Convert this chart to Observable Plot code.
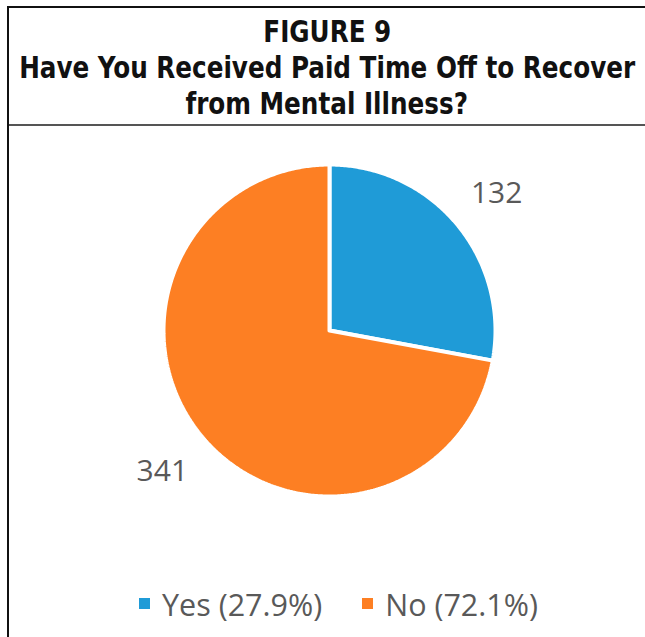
<!DOCTYPE html>
<html>
<head>
<meta charset="utf-8">
<script src="https://cdn.jsdelivr.net/npm/d3@7"></script>
<script src="https://cdn.jsdelivr.net/npm/@observablehq/plot@0.6"></script>
<style>
  html, body { margin: 0; padding: 0; background: #fff; }
  #wrap { position: relative; width: 645px; height: 637px; overflow: hidden; background: #fff; }
  #frame { position: absolute; left: 7px; top: 6px; right: -10px; bottom: -10px; border-left: 2px solid #111; border-top: 2px solid #111; }
  #divider { position: absolute; left: 9px; right: 0; top: 124px; height: 2px; background: #555; }
  #title { position: absolute; left: 9px; right: 0; top: 13px;
           font-family: "DejaVu Sans Condensed", "Liberation Sans Narrow", sans-serif;
           font-weight: bold; font-size: 31px; line-height: 36px; color: #111; }
  #title .ln { display: flex; justify-content: center; white-space: nowrap; }
  #title .ln span { display: inline-block; flex: none; transform-origin: center; }
  #chart { position: absolute; left: 0; top: 130px; }
  #legend { position: absolute; left: 32px; right: 0; top: 576px; text-align: center; font-family: "Open Sans", sans-serif;
            font-size: 30.5px; color: #595959; white-space: nowrap; }
  .item { display: inline-flex; align-items: center; margin: 0 20px; }
  .sw { display: inline-block; width: 11px; height: 11px; margin-right: 12px; }
</style>
</head>
<body>
<div id="wrap">
  <div id="frame"></div>
  <div id="title"></div>
  <div id="divider"></div>
  <div id="chart"></div>
  <div id="legend"></div>
</div>
<script>
const titleLines = ["FIGURE 9", "Have You Received Paid Time Off to Recover", "from Mental Illness?"];
const categories = ["Yes", "No"];
const counts = [132, 341];
const percentLabels = ["27.9%", "72.1%"];
const colors = ["#1f9bd7", "#fd7f23"];

// title (condensed to the reference width)
const titleEl = document.getElementById("title");
const spans = titleLines.map(t => {
  const ln = document.createElement("div");
  ln.className = "ln";
  const s = document.createElement("span");
  s.textContent = t;
  ln.appendChild(s);
  titleEl.appendChild(ln);
  return s;
});
const sx = 616 / spans[1].getBoundingClientRect().width;
spans.forEach(s => { s.style.transform = `scaleX(${sx})`; });

const W = 645, H = 440;
const cx = 329, cy = 200, R = 166;   // layout constants (pixels)

const pie = d3.pie().sort(null).value(d => d.count).startAngle(0).endAngle(2 * Math.PI);
const data = categories.map((c, i) => ({category: c, count: counts[i]}));
const arcs = pie(data);

const verts = [];
arcs.forEach(a => {
  const cat = a.data.category;
  verts.push({category: cat, x: 0, y: 0});
  const n = Math.max(8, Math.ceil((a.endAngle - a.startAngle) / 0.01));
  for (let k = 0; k <= n; k++) {
    const t = a.startAngle + (a.endAngle - a.startAngle) * k / n;
    verts.push({category: cat, x: Math.sin(t), y: Math.cos(t)});
  }
  verts.push({category: cat, x: 0, y: 0});
});

const labelR = 1.31;
const labels = arcs.map(a => {
  const m = (a.startAngle + a.endAngle) / 2;
  return {category: a.data.category, text: String(a.data.count), x: labelR * Math.sin(m), y: labelR * Math.cos(m)};
});

const chart = Plot.plot({
  width: W, height: H,
  margin: 0,
  x: {domain: [-cx / R, (W - cx) / R], range: [0, W], axis: null},
  y: {domain: [-(H - cy) / R, cy / R], range: [H, 0], axis: null},
  color: {domain: categories, range: colors},
  marks: [
    Plot.line(verts, {x: "x", y: "y", z: "category", fill: "category", stroke: "white", strokeWidth: 4, strokeLinejoin: "miter", curve: "linear"}),
    Plot.text(labels, {x: "x", y: "y", text: "text", fill: "#595959", fontSize: 30, fontFamily: "Open Sans, sans-serif", textAnchor: "middle", dy: 2})
  ]
});
document.getElementById("chart").appendChild(chart);

const legend = document.getElementById("legend");
categories.forEach((c, i) => {
  const it = document.createElement("span");
  it.className = "item";
  it.innerHTML = `<span class="sw" style="background:${colors[i]}"></span>${c} (${percentLabels[i]})`;
  legend.appendChild(it);
});
</script>
</body>
</html>
